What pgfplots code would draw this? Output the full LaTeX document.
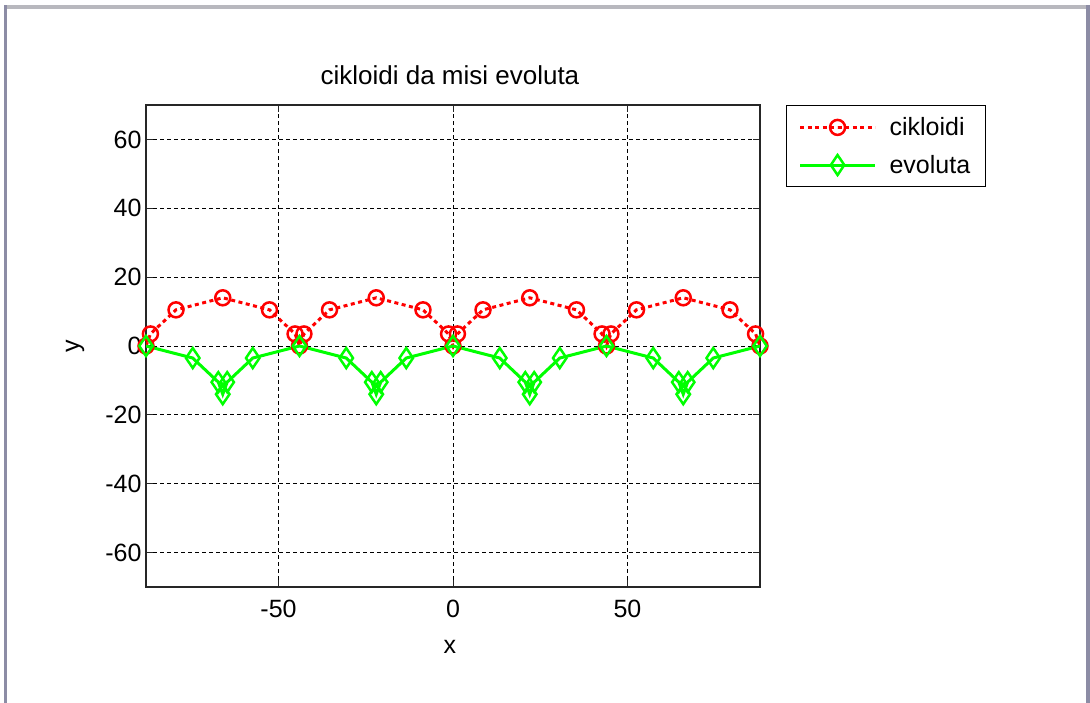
\documentclass[border=0pt]{standalone}
\usepackage{pgfplots}
\pgfplotsset{compat=1.18}
\usepackage{fontspec}
\setmainfont{Liberation Sans}
\definecolor{mred}{RGB}{255,0,0}
\definecolor{mgreen}{RGB}{0,255,0}
\definecolor{frameA}{RGB}{184,184,190}
\definecolor{frameB}{RGB}{140,140,165}
\begin{document}
\begin{tikzpicture}[x=1pt,y=1pt]
\fill[white] (0,0) rectangle (1090,703);
\path[use as bounding box] (0,0) rectangle (1090,703);
% window frame
\fill[frameA] (4,694) rectangle (1090,698);
\fill[frameB] (4,0) rectangle (7,698);
\fill[frameB] (1086,0) rectangle (1090,698);
\begin{axis}[
  at={(146pt,116pt)}, anchor=south west,
  scale only axis, width=614pt, height=482pt,
  xmin=-87.9646, xmax=87.9646, ymin=-70, ymax=70,
  xtick={-50,0,50}, ytick={-60,-40,-20,0,20,40,60},
  grid=major,
  major grid style={black, line width=0.8pt, dash pattern=on 4pt off 3pt},
  axis line style={black!85, line width=1.2pt},
  tick style={black!85, line width=1pt},
  major tick length=7pt,
  font=\fontsize{25}{29}\selectfont,
  /pgf/number format/assume math mode=true,
  yticklabel style={xshift=-1pt},
  xticklabel style={yshift=-10pt},
  title={cikloidi da misi evoluta},
  title style={at={(axis description cs:0.495,1.0498)}, anchor=center, font=\fontsize{26}{30}\selectfont},
  xlabel={x},
  xlabel style={at={(axis description cs:0.495,-0.1245)}, anchor=center},
  ylabel={y},
  ylabel style={at={(axis description cs:-0.1156,0.5)}, anchor=center},
  legend style={at={(1.0423,1)}, anchor=north west, draw=black, line width=1.2pt,
    fill=white, font=\fontsize{25}{29}\selectfont, row sep=12pt, column sep=10pt,
    inner xsep=12pt, inner ysep=9pt, nodes={inner sep=3pt}},
  legend cell align=left,
  legend image code/.code={\draw[mark repeat=2,mark phase=2] plot coordinates {(0pt,0pt) (37.5pt,0pt) (75pt,0pt)};},
]
\addplot[draw=mred, line width=3pt, dash pattern=on 4pt off 3.5pt,
  mark=o, mark size=7.5pt, mark options={draw=mred, solid, line width=2.5pt}] coordinates {
(-87.9646,0) (-86.6964,3.5) (-79.3662,10.5) (-65.9735,14) (-52.5808,10.5) (-45.2505,3.5)
(-43.9823,0) (-42.7141,3.5) (-35.3839,10.5) (-21.9912,14) (-8.5985,10.5) (-1.2682,3.5)
(0,0) (1.2682,3.5) (8.5984,10.5) (21.9911,14) (35.3838,10.5) (42.7141,3.5)
(43.9823,0) (45.2505,3.5) (52.5807,10.5) (65.9734,14) (79.3661,10.5) (86.6964,3.5) (87.9646,0)
};
\addlegendentry{cikloidi}
\addplot[draw=mgreen, line width=3pt, solid,
  mark=diamond, mark size=10pt, mark options={draw=mgreen, solid, line width=2.5pt, xscale=0.9}] coordinates {
(-87.9646,0) (-74.5720,-3.5) (-67.2416,-10.5) (-65.9735,-14) (-64.7053,-10.5) (-57.3749,-3.5)
(-43.9823,0) (-30.5897,-3.5) (-23.2593,-10.5) (-21.9912,-14) (-20.7230,-10.5) (-13.3926,-3.5)
(0,0) (13.3926,-3.5) (20.7230,-10.5) (21.9911,-14) (23.2593,-10.5) (30.5897,-3.5)
(43.9823,0) (57.3749,-3.5) (64.7053,-10.5) (65.9734,-14) (67.2416,-10.5) (74.5720,-3.5) (87.9646,0)
};
\addlegendentry{evoluta}
\end{axis}
\end{tikzpicture}
\end{document}
